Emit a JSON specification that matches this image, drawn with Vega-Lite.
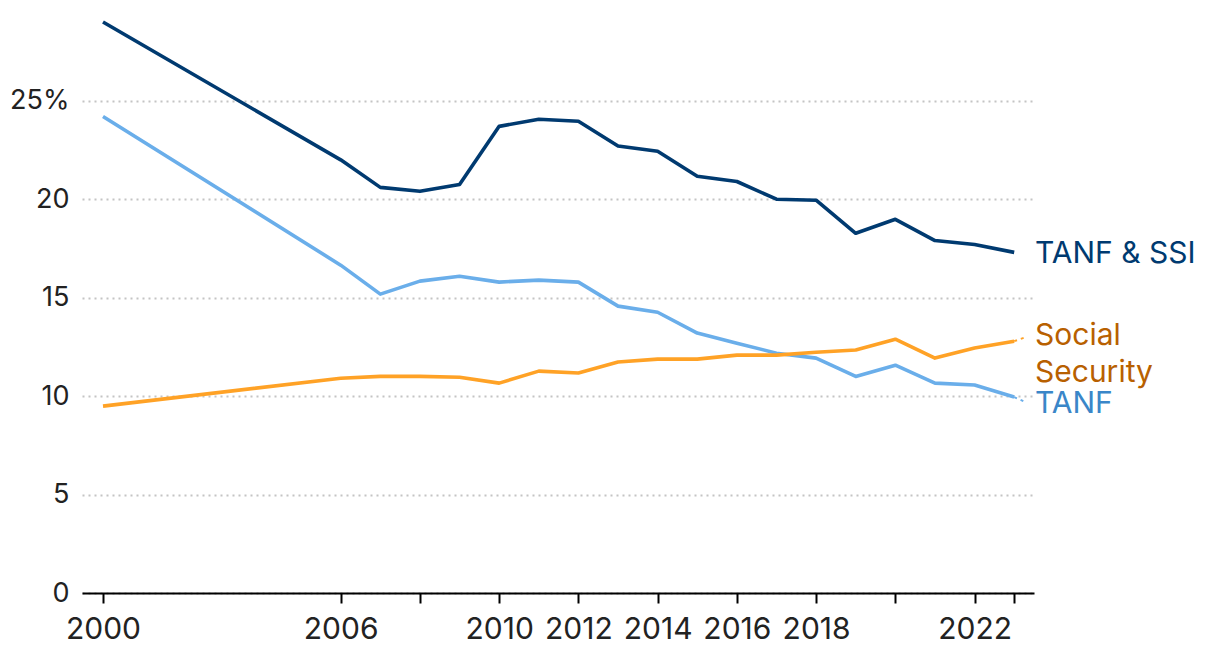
{
  "$schema": "https://vega.github.io/schema/vega-lite/v6.json",
  "autosize": {"type": "none"},
  "padding": {"left": 82, "top": 22, "right": 186, "bottom": 71},
  "width": 952,
  "height": 571,
  "background": "white",
  "config": {
    "view": {"stroke": null},
    "font": "Inter",
    "axis": {"labelFont": "Inter", "labelFontSize": 26, "labelColor": "#222222"}
  },
  "datasets": {
    "series": [
      {"year": 2000, "series": "TANF & SSI", "value": 29.0},
      {"year": 2006, "series": "TANF & SSI", "value": 22.0},
      {"year": 2007, "series": "TANF & SSI", "value": 20.6},
      {"year": 2008, "series": "TANF & SSI", "value": 20.4},
      {"year": 2009, "series": "TANF & SSI", "value": 20.75},
      {"year": 2010, "series": "TANF & SSI", "value": 23.7},
      {"year": 2011, "series": "TANF & SSI", "value": 24.06},
      {"year": 2012, "series": "TANF & SSI", "value": 23.96},
      {"year": 2013, "series": "TANF & SSI", "value": 22.7},
      {"year": 2014, "series": "TANF & SSI", "value": 22.44},
      {"year": 2015, "series": "TANF & SSI", "value": 21.17},
      {"year": 2016, "series": "TANF & SSI", "value": 20.9},
      {"year": 2017, "series": "TANF & SSI", "value": 20.0},
      {"year": 2018, "series": "TANF & SSI", "value": 19.95},
      {"year": 2019, "series": "TANF & SSI", "value": 18.27},
      {"year": 2020, "series": "TANF & SSI", "value": 18.98},
      {"year": 2021, "series": "TANF & SSI", "value": 17.9},
      {"year": 2022, "series": "TANF & SSI", "value": 17.7},
      {"year": 2023, "series": "TANF & SSI", "value": 17.3},
      {"year": 2000, "series": "TANF", "value": 24.2},
      {"year": 2006, "series": "TANF", "value": 16.65},
      {"year": 2007, "series": "TANF", "value": 15.18},
      {"year": 2008, "series": "TANF", "value": 15.84},
      {"year": 2009, "series": "TANF", "value": 16.09},
      {"year": 2010, "series": "TANF", "value": 15.79},
      {"year": 2011, "series": "TANF", "value": 15.89},
      {"year": 2012, "series": "TANF", "value": 15.79},
      {"year": 2013, "series": "TANF", "value": 14.57},
      {"year": 2014, "series": "TANF", "value": 14.26},
      {"year": 2015, "series": "TANF", "value": 13.2},
      {"year": 2016, "series": "TANF", "value": 12.69},
      {"year": 2017, "series": "TANF", "value": 12.18},
      {"year": 2018, "series": "TANF", "value": 11.93},
      {"year": 2019, "series": "TANF", "value": 11.0},
      {"year": 2020, "series": "TANF", "value": 11.57},
      {"year": 2021, "series": "TANF", "value": 10.66},
      {"year": 2022, "series": "TANF", "value": 10.56},
      {"year": 2023, "series": "TANF", "value": 9.95},
      {"year": 2000, "series": "Social Security", "value": 9.49},
      {"year": 2006, "series": "Social Security", "value": 10.91},
      {"year": 2007, "series": "Social Security", "value": 11.0},
      {"year": 2008, "series": "Social Security", "value": 11.0},
      {"year": 2009, "series": "Social Security", "value": 10.96},
      {"year": 2010, "series": "Social Security", "value": 10.66},
      {"year": 2011, "series": "Social Security", "value": 11.27},
      {"year": 2012, "series": "Social Security", "value": 11.17},
      {"year": 2013, "series": "Social Security", "value": 11.73},
      {"year": 2014, "series": "Social Security", "value": 11.88},
      {"year": 2015, "series": "Social Security", "value": 11.88},
      {"year": 2016, "series": "Social Security", "value": 12.08},
      {"year": 2017, "series": "Social Security", "value": 12.08},
      {"year": 2018, "series": "Social Security", "value": 12.23},
      {"year": 2019, "series": "Social Security", "value": 12.34},
      {"year": 2020, "series": "Social Security", "value": 12.89},
      {"year": 2021, "series": "Social Security", "value": 11.93},
      {"year": 2022, "series": "Social Security", "value": 12.44},
      {"year": 2023, "series": "Social Security", "value": 12.79}
    ],
    "labels": [
      {"series": "TANF & SSI", "label": "TANF & SSI", "labelYear": 2023.5, "labelValue": 17.2},
      {"series": "Social Security", "label": "Social\nSecurity", "labelYear": 2023.5, "labelValue": 13.05},
      {"series": "TANF", "label": "TANF", "labelYear": 2023.5, "labelValue": 9.6}
    ],
    "connectors": [
      {"series": "Social Security", "year": 2023, "value": 12.79, "endYear": 2023.3, "endValue": 13.0},
      {"series": "TANF", "year": 2023, "value": 9.95, "endYear": 2023.3, "endValue": 9.68}
    ]
  },
  "layer": [
    {
      "data": {"name": "series"},
      "mark": {"type": "line", "strokeWidth": 3.6, "strokeJoin": "round", "clip": false},
      "encoding": {
        "x": {
          "field": "year", "type": "quantitative",
          "scale": {"domain": [1999.47, 2023.5], "nice": false, "zero": false},
          "axis": {
            "title": null,
            "values": [2000, 2006, 2008, 2010, 2012, 2014, 2016, 2018, 2020, 2022, 2023],
            "format": "d",
            "labelExpr": "datum.value == 2008 || datum.value == 2020 || datum.value == 2023 ? '' : datum.label",
            "labelOverlap": false,
            "labelFlush": false,
            "labelFontSize": 30,
            "grid": false,
            "domain": true,
            "domainColor": "#000000",
            "domainWidth": 2,
            "ticks": true,
            "tickColor": "#000000",
            "tickWidth": 2,
            "tickSize": 10,
            "labelPadding": 11
          }
        },
        "y": {
          "field": "value", "type": "quantitative",
          "scale": {"domain": [0, 29], "nice": false},
          "axis": {
            "title": null,
            "values": [0, 5, 10, 15, 20, 25],
            "labelExpr": "datum.value == 25 ? '25%' : datum.label",
            "labelFontSize": 27,
            "domain": false,
            "ticks": false,
            "grid": true,
            "gridColor": "#c4c4c4",
            "gridDash": [2, 4],
            "gridWidth": 2,
            "labelPadding": 13
          }
        },
        "color": {
          "field": "series", "type": "nominal",
          "scale": {"domain": ["TANF & SSI", "TANF", "Social Security"], "range": ["#003a70", "#6aaeea", "#ffa226"]},
          "legend": null
        }
      }
    },
    {
      "data": {"name": "connectors"},
      "mark": {"type": "rule", "strokeWidth": 2, "strokeDash": [3, 4], "clip": false},
      "encoding": {
        "x": {"field": "year", "type": "quantitative"},
        "x2": {"field": "endYear"},
        "y": {"field": "value", "type": "quantitative"},
        "y2": {"field": "endValue"},
        "color": {
          "field": "series", "type": "nominal",
          "scale": {"domain": ["TANF & SSI", "TANF", "Social Security"], "range": ["#003a70", "#6aaeea", "#ffa226"]},
          "legend": null
        }
      }
    },
    {
      "data": {"name": "labels"},
      "mark": {"type": "text", "align": "left", "baseline": "middle", "fontSize": 30, "font": "Inter", "lineBreak": "\n", "lineHeight": 37, "dx": 1, "clip": false},
      "encoding": {
        "x": {"field": "labelYear", "type": "quantitative"},
        "y": {"field": "labelValue", "type": "quantitative"},
        "text": {"field": "label"},
        "color": {
          "field": "series", "type": "nominal",
          "scale": {"domain": ["TANF & SSI", "TANF", "Social Security"], "range": ["#003a70", "#3a86c8", "#b86000"]},
          "legend": null
        }
      }
    }
  ],
  "resolve": {"scale": {"color": "independent"}}
}
